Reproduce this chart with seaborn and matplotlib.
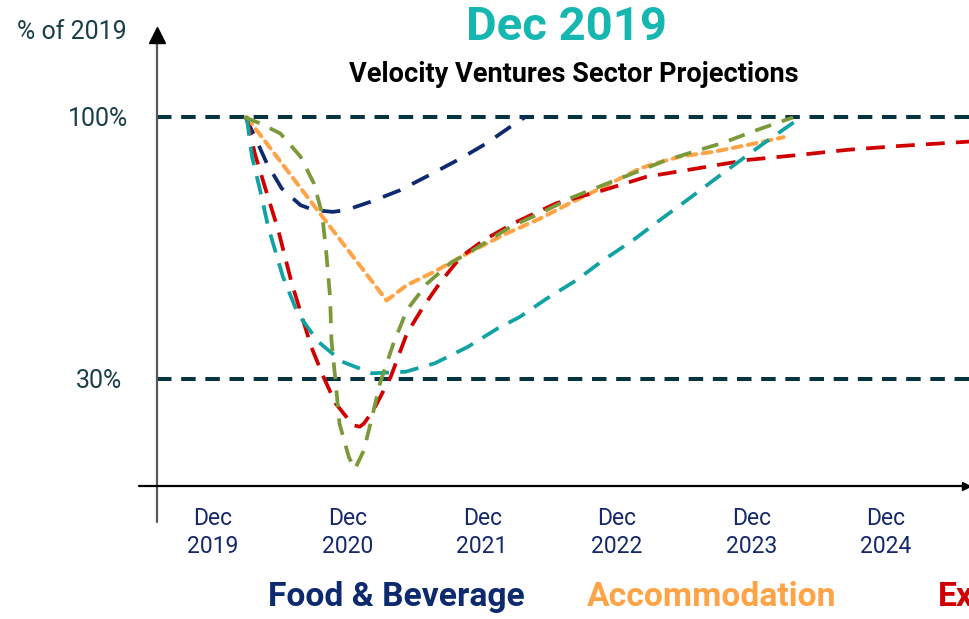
import matplotlib
matplotlib.use("Agg")
import matplotlib.pyplot as plt
from matplotlib.transforms import ScaledTranslation
import seaborn as sns
import pandas as pd

sns.set_style("white")
plt.rcParams["font.family"] = ["Roboto", "DejaVu Sans"]

# ---------------- data (x: years since Dec 2019, y: % of 2019) ----------------
year_labels = ["Dec\n2019", "Dec\n2020", "Dec\n2021", "Dec\n2022", "Dec\n2023", "Dec\n2024"]
ref_levels = [30, 100]
ref_labels = ["30%", "100%"]

fb_x = [0.24, 0.30, 0.40, 0.51, 0.65, 0.75, 0.89, 0.99, 1.17, 1.39, 1.61, 1.84, 2.03, 2.23, 2.32]
fb_y = [100, 95.6, 87.6, 80.9, 76.4, 75.1, 74.6, 75.1, 77.3, 80.4, 84.5, 88.9, 92.9, 97.9, 100]

acc_x = [0.25, 0.72, 1.29, 1.44, 1.64, 1.89, 2.18, 2.43, 2.65, 2.85, 3.05, 3.17, 3.30, 3.47, 3.72, 3.97, 4.14, 4.24]
acc_y = [100, 77.7, 50.9, 55.0, 58.5, 63.5, 68.8, 72.8, 76.9, 80.4, 84.0, 86.2, 87.7, 89.4, 90.7, 92.5, 93.8, 94.6]

exp_x = [0.25, 0.31, 0.40, 0.485, 0.585, 0.73, 0.82, 0.91, 1.04, 1.09, 1.12, 1.19, 1.32, 1.44, 1.56, 1.69,
         1.84, 2.01, 2.23, 2.55, 2.90, 3.22, 3.59, 3.97, 4.34, 4.71, 5.08, 5.61, 5.80]
exp_y = [100, 90.3, 79.6, 69.7, 55.5, 38.5, 30.5, 23.4, 17.5, 17.1, 17.9, 21.4, 30.4, 42.0, 49.1, 55.8,
         62.5, 67.0, 71.5, 76.9, 80.4, 84.0, 86.2, 88.5, 89.8, 91.2, 92.2, 93.4, 93.8]

trn_x = [0.25, 0.29, 0.35, 0.41, 0.52, 0.63, 0.78, 0.96, 1.18, 1.43, 1.65, 1.89, 2.11, 2.28, 2.48, 2.70,
         2.90, 3.12, 3.32, 3.52, 3.72, 3.87, 4.09, 4.32]
trn_y = [100, 89.4, 80.4, 70.6, 57.2, 47.4, 39.9, 34.5, 31.4, 31.8, 34.1, 38.4, 43.3, 46.5, 51.4, 56.3,
         61.7, 67.0, 72.4, 77.7, 83.1, 87.1, 92.9, 98.7]

ret_x = [0.23, 0.35, 0.50, 0.65, 0.75, 0.81, 0.84, 0.87, 0.88, 0.91, 0.94, 1.01, 1.055, 1.12, 1.17, 1.24,
         1.34, 1.44, 1.59, 1.76, 1.93, 2.21, 2.43, 2.65, 2.90, 3.12, 3.35, 3.57, 3.79, 4.04, 4.31]
ret_y = [100, 98.3, 95.6, 89.4, 82.2, 74.2, 64.3, 51.8, 40.2, 29.5, 17.9, 8.9, 5.8, 10.7, 17.9, 28.6,
         39.3, 48.3, 55.4, 60.8, 64.3, 70.6, 74.2, 78.2, 81.8, 84.9, 88.2, 90.7, 93.1, 96.5, 99.9]

series_names = ["Food & Beverage", "Accommodation", "Experiences", "Transportation", "Retail"]
series_x = [fb_x, acc_x, exp_x, trn_x, ret_x]
series_y = [fb_y, acc_y, exp_y, trn_y, ret_y]
colors = ["#0e2a6e", "#ffa347", "#d00000", "#11a3a3", "#7a9a3a"]
dash_styles = [(5, 3.5), (2.2, 1.6), (5, 3), (5, 3), (4.5, 3)]

# ---------------- figure ----------------
W, H = 969, 619
fig = plt.figure(figsize=(W / 100, H / 100), dpi=100)

def fx(p):
    return p / W

def fy(p):
    return 1 - p / H

ax_left, ax_right, ax_bottom, ax_top = 157, 969, 486, 27
ax = fig.add_axes([fx(ax_left), fy(ax_bottom), fx(ax_right - ax_left), (ax_bottom - ax_top) / H])
ax.set_xlim(-0.416, 5.617)
ax.set_ylim(1.23, 124.09)

for v in ref_levels:
    ax.axhline(v, color="#063540", lw=2.9, linestyle=(0, (3.6, 2.4)), zorder=1)

for name, xs, ys, c, d in zip(series_names, series_x, series_y, colors, dash_styles):
    df = pd.DataFrame({"x": xs, "y": ys})
    sns.lineplot(data=df, x="x", y="y", ax=ax, color=c, lw=2.7, estimator=None, sort=False, zorder=3)
    ln = ax.lines[-1]
    ln.set_dashes(d)
    if name == "Accommodation":
        ln.set_dash_capstyle("round")
        ln.set_linewidth(2.9)

for s in ax.spines.values():
    s.set_visible(False)

ax.set_xticks(range(len(year_labels)))
ax.set_xticklabels(year_labels, fontsize=16.5, color="#14286b", linespacing=1.3)
ax.set_yticks(ref_levels)
ax.set_yticklabels(ref_labels, fontsize=18, color="#1a3f4a")
ax.tick_params(axis="x", length=0, pad=15)
ax.tick_params(axis="y", length=0, pad=21)
ax.set_xlabel("")
ax.set_ylabel("")
ax.grid(False)

# the "30%" label sits a little further left in the reference
lab30 = ax.get_yticklabels()[0]
lab30.set_transform(lab30.get_transform() + ScaledTranslation(-6 / 100, 0, fig.dpi_scale_trans))

# axis lines drawn as decorations
fig.add_artist(plt.Line2D([fx(157), fx(157)], [fy(522), fy(40)], color="#595959", lw=1.6))
fig.add_artist(plt.Line2D([fx(157)], [fy(35)], marker="^", markersize=12, color="black", lw=0))
fig.add_artist(plt.Line2D([fx(139), fx(966)], [fy(486), fy(486)], color="black", lw=1.6))
fig.add_artist(plt.Line2D([fx(966)], [fy(486)], marker=">", markersize=6, color="black", lw=0))

# titles
fig.text(fx(127), fy(32), "% of 2019", fontsize=18, color="#1a3f4a", ha="right", va="center")
fig.text(fx(566), fy(27), "Dec 2019", fontsize=34, fontweight="bold", color="#16b6b1", ha="center", va="center")
fig.text(fx(574), fy(74), "Velocity Ventures Sector Projections", fontsize=19.5, fontweight="bold",
         color="black", ha="center", va="center")

# legend as coloured text
leg_centers = [396, 712, 1030, 1360, 1680]
for name, c, cx in zip(series_names, colors, leg_centers):
    fig.text(fx(cx), fy(597), name, fontsize=24.2, fontweight="bold", color=c, ha="center", va="center")

fig.savefig("out.png", dpi=100)
